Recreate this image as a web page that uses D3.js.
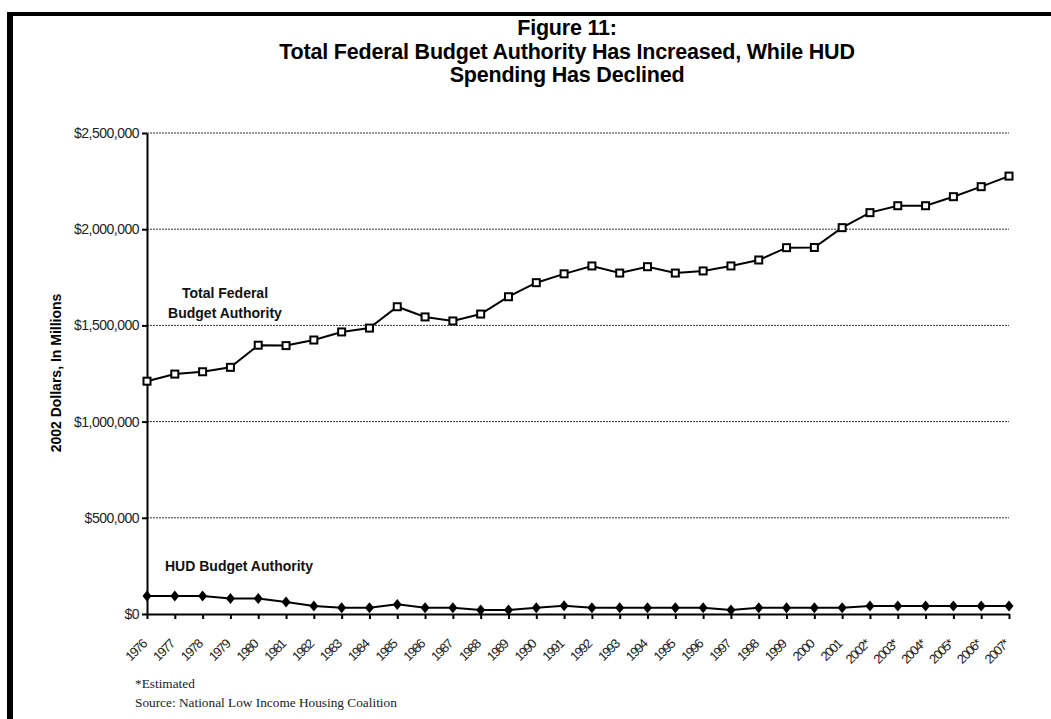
<!DOCTYPE html>
<html>
<head>
<meta charset="utf-8">
<script src="https://cdn.jsdelivr.net/npm/d3@7"></script>
<style>
  body { margin: 0; background: #fff; }
  svg { display: block; }
</style>
</head>
<body>
<div id="chart"></div>
<script>
// years on the category axis (* = estimated)
const years = ["1976", "1977", "1978", "1979", "1980", "1981", "1982", "1983", "1984", "1985",
  "1986", "1987", "1988", "1989", "1990", "1991", "1992", "1993", "1994", "1995", "1996",
  "1997", "1998", "1999", "2000", "2001", "2002*", "2003*", "2004*", "2005*", "2006*", "2007*"];

// 2002 dollars, in millions
const totalBA = [1210000, 1247000, 1259000, 1282000, 1397000, 1395000, 1424000, 1466000,
  1486000, 1597000, 1544000, 1523000, 1559000, 1649000, 1722000, 1768000, 1809000, 1772000,
  1805000, 1772000, 1783000, 1809000, 1840000, 1904000, 1905000, 2008000, 2086000, 2122000,
  2122000, 2169000, 2221000, 2276000];

const hudBA = [93000, 93000, 94000, 80000, 80000, 62000, 42000, 33000, 33000, 50000, 33000,
  33000, 21000, 21000, 32000, 43000, 33000, 33000, 33000, 32000, 33000, 21000, 33000, 33000,
  33000, 33000, 42000, 42000, 42000, 42000, 42000, 42000];

const yTicks = [0, 500000, 1000000, 1500000, 2000000, 2500000];

const titleLines = ["Figure 11:", "Total Federal Budget Authority Has Increased, While HUD", "Spending Has Declined"];

const W = 1051, H = 719;
const svg = d3.select("#chart").append("svg").attr("width", W).attr("height", H);

// frame (only top and left edges show)
svg.append("rect").attr("x", 7).attr("y", 12).attr("width", W - 7).attr("height", 4).attr("fill", "#000");
svg.append("rect").attr("x", 7).attr("y", 12).attr("width", 6).attr("height", H - 12).attr("fill", "#000");

// title
svg.append("g")
  .selectAll("text")
  .data(titleLines)
  .enter()
  .append("text")
  .attr("x", 567)
  .attr("y", (d, i) => 35 + 23.5 * i)
  .attr("text-anchor", "middle")
  .style("font-family", "Liberation Sans, Arial, sans-serif")
  .style("font-weight", "bold")
  .style("font-size", "21.5px")
  .style("letter-spacing", "-0.2px")
  .text(d => d);

const x = d3.scalePoint().domain(years).range([147, 1009]);
const y = d3.scaleLinear().domain([0, 2500000]).range([614, 133]);

// gridlines
svg.append("g")
  .selectAll("line")
  .data(yTicks.filter(d => d > 0))
  .enter()
  .append("line")
  .attr("x1", 147)
  .attr("x2", 1009)
  .attr("y1", d => y(d))
  .attr("y2", d => y(d))
  .attr("stroke", "#000")
  .attr("stroke-width", 0.8)
  .attr("stroke-dasharray", "2,1");

// y axis
const yAxis = svg.append("g")
  .attr("transform", "translate(147,0)")
  .call(d3.axisLeft(y).tickValues(yTicks).tickFormat(d3.format("$,")).tickSize(5).tickSizeOuter(0));
yAxis.select(".domain").attr("stroke-width", 2);
yAxis.selectAll(".tick line").attr("stroke-width", 2);
yAxis.selectAll(".tick text")
  .attr("x", -8)
  .style("font-family", "Liberation Sans, Arial, sans-serif")
  .style("font-size", "14px")
  .style("letter-spacing", "-0.5px")
  .style("fill", "#222");

// x axis
const xAxis = svg.append("g")
  .attr("transform", "translate(0,614)")
  .call(d3.axisBottom(x).tickSize(5).tickSizeOuter(0));
xAxis.select(".domain").attr("stroke-width", 2);
xAxis.selectAll(".tick line").attr("stroke-width", 2);
xAxis.selectAll(".tick text")
  .attr("y", 0)
  .attr("dy", 0)
  .attr("text-anchor", "end")
  .attr("transform", "translate(0,31) rotate(-45)")
  .style("font-family", "Liberation Sans, Arial, sans-serif")
  .style("font-size", "13px")
  .style("letter-spacing", "-1.3px")
  .style("fill", "#222");

// y axis title
svg.append("text")
  .attr("transform", "translate(61,373) rotate(-90)")
  .attr("text-anchor", "middle")
  .style("font-family", "Liberation Sans, Arial, sans-serif")
  .style("font-weight", "bold")
  .style("font-size", "14px")
  .text("2002 Dollars, In Millions");

const line = d3.line().x((d, i) => x(years[i])).y(d => y(d));

// total federal budget authority
svg.append("path")
  .datum(totalBA)
  .attr("d", line)
  .attr("fill", "none")
  .attr("stroke", "#000")
  .attr("stroke-width", 2);

svg.append("g")
  .selectAll("rect")
  .data(totalBA)
  .enter()
  .append("rect")
  .attr("x", (d, i) => x(years[i]) - 3.5)
  .attr("y", d => y(d) - 3.5)
  .attr("width", 7)
  .attr("height", 7)
  .attr("fill", "#fff")
  .attr("stroke", "#000")
  .attr("stroke-width", 2);

// HUD budget authority
svg.append("path")
  .datum(hudBA)
  .attr("d", line)
  .attr("fill", "none")
  .attr("stroke", "#000")
  .attr("stroke-width", 2);

svg.append("g")
  .selectAll("path")
  .data(hudBA)
  .enter()
  .append("path")
  .attr("transform", (d, i) => `translate(${x(years[i])},${y(d)})`)
  .attr("d", "M0,-5.5L4.5,0L0,5.5L-4.5,0Z")
  .attr("fill", "#000");

// series labels
const labelStyle = sel => sel
  .style("font-family", "Liberation Sans, Arial, sans-serif")
  .style("font-weight", "bold")
  .style("font-size", "14px")
  .attr("fill", "#111");

svg.append("text").attr("x", 225).attr("y", 298).attr("text-anchor", "middle").call(labelStyle).text("Total Federal");
svg.append("text").attr("x", 225).attr("y", 318).attr("text-anchor", "middle").call(labelStyle).text("Budget Authority");
svg.append("text").attr("x", 165).attr("y", 571).call(labelStyle).text("HUD Budget Authority");

// notes
const noteStyle = sel => sel
  .style("font-family", "Liberation Serif, Times New Roman, serif")
  .style("font-size", "13.3px")
  .attr("fill", "#222");

svg.append("text").attr("x", 135).attr("y", 688).call(noteStyle).text("*Estimated");
svg.append("text").attr("x", 135).attr("y", 707).call(noteStyle).text("Source: National Low Income Housing Coalition");
</script>
</body>
</html>
